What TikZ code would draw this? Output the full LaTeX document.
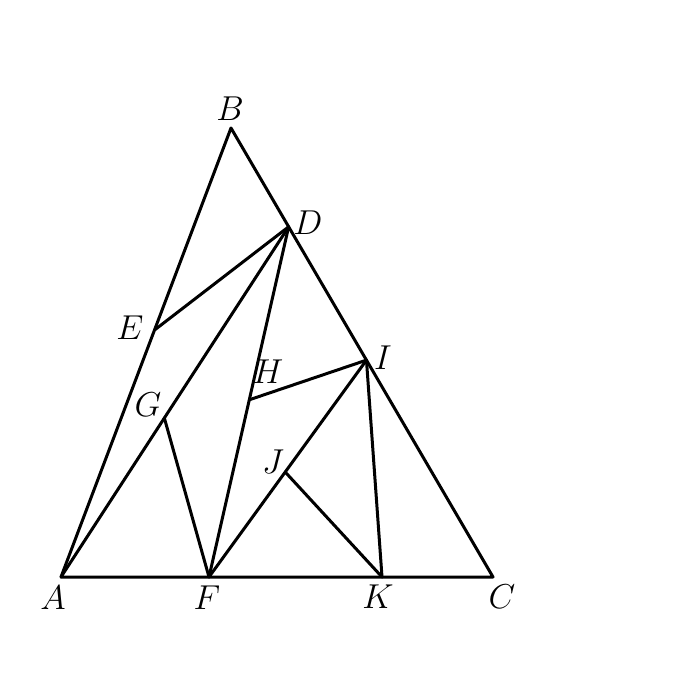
\documentclass[tikz,border=0pt]{standalone}
\usepackage{amsmath}
\usepackage{tikz}
\usetikzlibrary{calc}

\tikzset{
  seg/.style={line width=1.5pt, line cap=round, line join=round},
  lbl/.style={inner sep=0pt, font=\fontsize{16}{19}\selectfont}
}

\begin{document}
\begin{tikzpicture}[x=0.5pt, y=-0.5pt]
    \fill[white] (0,0) rectangle (680,700);
    \useasboundingbox (0,0) rectangle (680,700);

    \coordinate (A) at (61,577);
    \coordinate (B) at (231,128);
    \coordinate (C) at (493,577);
    \coordinate (D) at ($(B)!0.22!(C)$);
    \coordinate (I) at ($(B)!0.517!(C)$);
    \coordinate (E) at ($(A)!0.55!(B)$);
    \coordinate (F) at (209,577);
    \coordinate (K) at (382,577);
    \coordinate (G) at ($(A)!0.454!(D)$);
    \coordinate (H) at ($(F)!0.506!(D)$);
    \coordinate (J) at ($(F)!0.484!(I)$);

    \draw[seg] (A) -- (B) -- (C) -- (A);
    \draw[seg] (E) -- (D);
    \draw[seg] (A) -- (D);
    \draw[seg] (F) -- (D);
    \draw[seg] (G) -- (F);
    \draw[seg] (H) -- (I);
    \draw[seg] (F) -- (I);
    \draw[seg] (I) -- (K);
    \draw[seg] (J) -- (K);

    \node[lbl] (lA) at (53,598) {$A$};
    \node[lbl] (lB) at (230,109) {$B$};
    \node[lbl] (lC) at (502,597) {$C$};
    \node[lbl] (lD) at (308,223) {$D$};
    \node[lbl] (lE) at (130,328) {$E$};
    \node[lbl] (lF) at (207,598) {$F$};
    \node[lbl] (lG) at (148,405) {$G$};
    \node[lbl] (lH) at (268,372) {$H$};
    \node[lbl] (lI) at (383,358) {$I$};
    \node[lbl] (lJ) at (273,462) {$J$};
    \node[lbl] (lK) at (378,597) {$K$};

\end{tikzpicture}
\end{document}
